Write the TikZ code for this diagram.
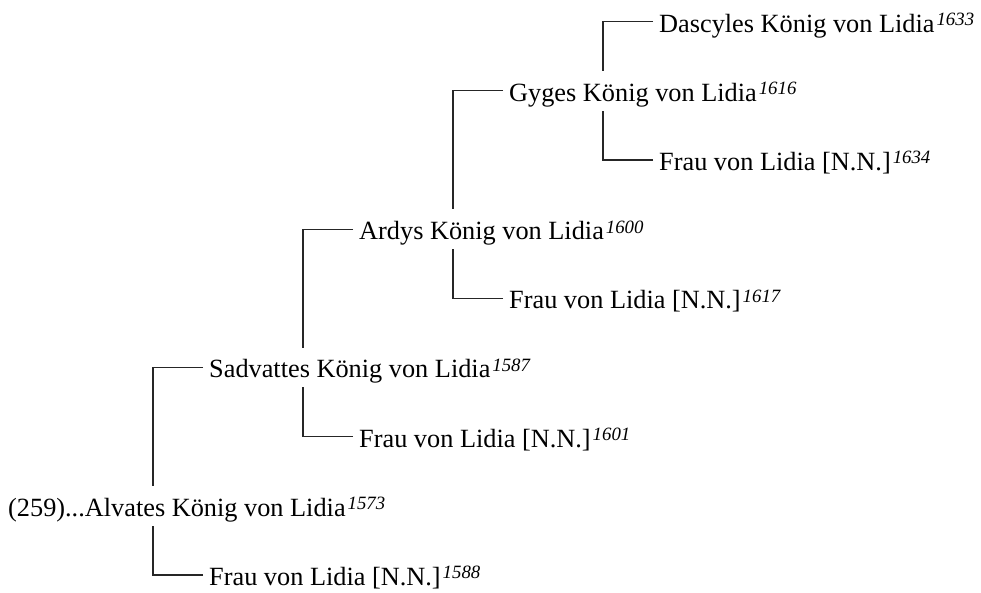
\documentclass[tikz,border=0pt]{standalone}
\usepackage{fontspec}
\setmainfont{Liberation Serif}
\newcommand\yrsup[1]{\kern2pt\raisebox{6.5pt}{\fontsize{18.8}{18.8}\selectfont\itshape #1}}
\begin{document}
\begin{tikzpicture}[x=1pt,y=-1pt,
  person/.style={anchor=west,inner xsep=6pt,inner ysep=0pt,text height=30.1pt,text depth=9.2pt,font=\fontsize{26.3}{26.3}\selectfont},
  link/.style={draw=black!85,line width=1.1pt}]
\useasboundingbox (0,0) rectangle (981,593);
\coordinate (v0) at (153,0);
\coordinate (v1) at (303,0);
\coordinate (v2) at (453,0);
\coordinate (v3) at (603,0);
% rows
\node[person] (alv) at (2,506) {(259)...Alvates König von Lidia\yrsup{1573}};
\node[person] (sad) at (203,367.5) {Sadvattes König von Lidia\yrsup{1587}};
\node[person] (f1588) at (203,575.0) {Frau von Lidia [N.N.]\yrsup{1588}};
\node[person] (ard) at (353,229.2) {Ardys König von Lidia\yrsup{1600}};
\node[person] (f1601) at (353,436.7) {Frau von Lidia [N.N.]\yrsup{1601}};
\node[person] (gyg) at (503,90.9) {Gyges König von Lidia\yrsup{1616}};
\node[person] (f1617) at (503,298.3) {Frau von Lidia [N.N.]\yrsup{1617}};
\node[person] (das) at (653,21.7) {Dascyles König von Lidia\yrsup{1633}};
\node[person] (f1634) at (653,160.0) {Frau von Lidia [N.N.]\yrsup{1634}};
% connectors
\draw[link] (sad.west) -| (alv.north -| v0);
\draw[link] (f1588.west) -| (alv.south -| v0);
\draw[link] (ard.west) -| (sad.north -| v1);
\draw[link] (f1601.west) -| (sad.south -| v1);
\draw[link] (gyg.west) -| (ard.north -| v2);
\draw[link] (f1617.west) -| (ard.south -| v2);
\draw[link] (das.west) -| (gyg.north -| v3);
\draw[link] (f1634.west) -| (gyg.south -| v3);
\end{tikzpicture}
\end{document}
